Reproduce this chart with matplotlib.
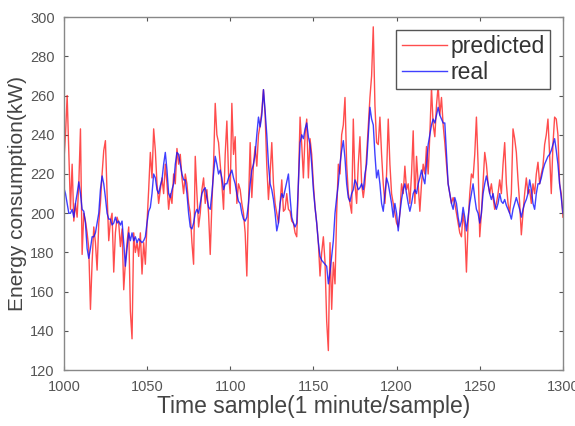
import matplotlib.pyplot as plt

plt.rcParams['font.family'] = ['Liberation Sans', 'DejaVu Sans']

# time samples (1 minute / sample)
t_start = 1000

predicted = [
    226, 240, 260, 230, 202, 225, 196, 205, 198, 215,
    243, 179, 200, 196, 190, 182, 151, 175, 193, 185,
    171, 195, 205, 220, 232, 237, 210, 186, 196, 200,
    170, 190, 198, 195, 183, 192, 161, 175, 185, 193,
    150, 136, 190, 180, 185, 178, 190, 169, 185, 174,
    195, 212, 231, 218, 243, 232, 215, 205, 212, 218,
    210, 225, 215, 202, 210, 205, 220, 215, 233, 225,
    230, 218, 210, 220, 215, 205, 200, 185, 174, 229,
    210, 193, 200, 212, 218, 205, 212, 200, 179, 205,
    225, 256, 240, 236, 225, 215, 202, 230, 247, 220,
    210, 256, 230, 239, 205, 215, 212, 205, 200, 190,
    168, 205, 236, 208, 225, 234, 224, 240, 245, 252,
    263, 250, 224, 207, 220, 236, 215, 205, 200, 195,
    205, 217, 201, 202, 210, 202, 201, 196, 195, 190,
    188, 215, 249, 235, 218, 240, 248, 218, 238, 230,
    215, 203, 195, 185, 168, 180, 188, 175, 145, 130,
    185, 151, 175, 164, 200, 225, 220, 240, 245, 259,
    225, 210, 205, 200, 248, 215, 205, 225, 239, 215,
    208, 215, 230, 245, 259, 270, 295, 255, 236, 235,
    249, 230, 215, 205, 220, 248, 225, 210, 205, 200,
    195, 193, 200, 215, 210, 224, 212, 215, 205, 220,
    242, 205, 229, 215, 201, 215, 225, 220, 234, 220,
    240, 264, 245, 239, 255, 265, 250, 259, 245, 236,
    225, 215, 210, 205, 208, 205, 200, 195, 190, 188,
    200, 193, 170, 195, 210, 220, 218, 230, 249, 225,
    188, 200, 215, 231, 225, 215, 210, 215, 208, 202,
    205, 210, 217, 210, 225, 236, 215, 205, 200, 210,
    243, 238, 231, 217, 205, 189, 200, 210, 218, 210,
    212, 205, 215, 210, 220, 226, 215, 220, 224, 235,
    240, 248, 230, 210, 235, 249, 248, 240, 215, 210,
    198,
]

real = [
    213, 210, 205, 200, 200, 202, 198, 205, 210, 216,
    210, 202, 201, 195, 182, 177, 182, 188, 188, 190,
    195, 200, 212, 219, 215, 208, 200, 197, 197, 194,
    195, 198, 195, 196, 194, 196, 185, 173, 182, 190,
    186, 190, 186, 188, 185, 187, 186, 185, 186, 188,
    195, 201, 203, 210, 220, 218, 212, 210, 214, 217,
    225, 231, 222, 210, 208, 212, 215, 225, 231, 230,
    225, 220, 217, 217, 210, 200, 193, 192, 195, 200,
    202, 200, 205, 210, 212, 213, 208, 203, 202, 210,
    220, 229, 225, 220, 222, 218, 212, 215, 215, 218,
    220, 222, 218, 215, 210, 206, 205, 200, 197, 196,
    198, 205, 215, 222, 225, 230, 240, 249, 244, 250,
    263, 252, 240, 225, 215, 212, 207, 200, 191, 195,
    205, 210, 208, 212, 216, 220, 208, 198, 195, 193,
    195, 215, 236, 240, 238, 243, 246, 239, 235, 225,
    212, 203, 195, 185, 178, 176, 175, 174, 173, 164,
    170, 178, 186, 200, 208, 215, 225, 232, 237, 228,
    215, 208, 206, 210, 212, 217, 215, 212, 213, 215,
    212, 220, 225, 240, 254, 248, 245, 230, 218, 222,
    215, 205, 201, 210, 218, 215, 210, 205, 198, 205,
    200, 191, 200, 207, 212, 215, 210, 205, 201, 205,
    210, 212, 210, 215, 218, 222, 218, 215, 225, 235,
    240, 245, 248, 246, 250, 254, 250, 248, 246, 246,
    230, 215, 210, 205, 202, 208, 205, 198, 193, 196,
    203, 198, 191, 198, 205, 210, 215, 208, 202, 200,
    195, 200, 210, 215, 219, 215, 210, 207, 210, 205,
    202, 205, 210, 206, 205, 207, 204, 202, 200, 197,
    202, 205, 208, 205, 202, 198, 202, 205, 207, 210,
    217, 212, 205, 202, 210, 215, 215, 218, 222, 225,
    227, 229, 230, 232, 235, 238, 232, 225, 215, 208,
    200,
]

samples = list(range(t_start, t_start + len(predicted)))

x_ticks = [1000, 1050, 1100, 1150, 1200, 1250, 1300]
y_ticks = [120, 140, 160, 180, 200, 220, 240, 260, 280, 300]

fig = plt.figure(figsize=(5.75, 4.26), dpi=100)
ax = fig.add_axes([0.111, 0.131, 0.868, 0.829])

ax.plot(samples, predicted, color='#ff2020', alpha=0.8, lw=1.0, label='predicted')
ax.plot(samples, real, color='#1010ff', alpha=0.8, lw=1.0, label='real')

ax.set_xlim(1000, 1300)
ax.set_ylim(120, 300)
ax.set_xticks(x_ticks)
ax.set_yticks(y_ticks)
ax.tick_params(direction='in', length=3, labelsize=10.5, colors='#555555',
               top=True, right=True)
ax.tick_params(axis='x', pad=7)
ax.tick_params(axis='y', pad=6.5)
for sp in ax.spines.values():
    sp.set_color('#888888')
    sp.set_linewidth(1.0)

ax.set_xlabel('Time sample(1 minute/sample)', fontsize=16.5, color='#444444', labelpad=1)
ax.set_ylabel('Energy consumption(kW)', fontsize=15, color='#444444', labelpad=2)

leg = ax.legend(loc='upper right', fontsize=16.5, fancybox=False, framealpha=1,
                edgecolor='#555555', handlelength=2.0, handletextpad=0.13,
                borderpad=0.25, labelspacing=0.1, borderaxespad=0.55)
leg.get_frame().set_linewidth(1.0)
for txt in leg.get_texts():
    txt.set_color('#333333')

plt.savefig('out.png', dpi=100)
